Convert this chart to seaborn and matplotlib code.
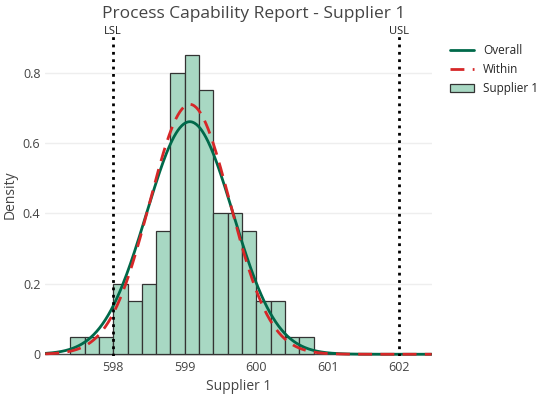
import numpy as np
import pandas as pd
import matplotlib
matplotlib.use('Agg')
import matplotlib.pyplot as plt
import seaborn as sns

# histogram bins (density)
bin_left = [597.4, 597.6, 597.8, 598.0, 598.2, 598.4, 598.6, 598.8, 599.0,
            599.2, 599.4, 599.6, 599.8, 600.0, 600.2, 600.4, 600.6]
density = [0.05, 0.05, 0.05, 0.2, 0.15, 0.2, 0.35, 0.8, 0.85,
           0.75, 0.4, 0.4, 0.35, 0.15, 0.15, 0.05, 0.05]
bin_width = 0.2

mean = 599.07
sigma_overall = 0.604
sigma_within = 0.562
lsl, usl = 598.0, 602.0

x = np.linspace(597.05, 602.45, 400)
def npdf(x, m, s):
    return np.exp(-0.5 * ((x - m) / s) ** 2) / (s * np.sqrt(2 * np.pi))

df = pd.DataFrame({'x': np.array(bin_left) + bin_width / 2, 'd': density})

sns.set_style('white')
plt.rcParams['font.family'] = ['Open Sans', 'DejaVu Sans']
fig = plt.figure(figsize=(5.52, 4.13), dpi=100)
ax = fig.add_axes([0.082, 0.138, 0.70, 0.78])

ax.bar(df.x, df.d, width=bin_width, color='#a8d8c3', edgecolor='#333333',
       linewidth=0.9, label='Supplier 1', zorder=2)
sns.lineplot(x=x, y=npdf(x, mean, sigma_overall), color='#00694a', lw=2,
             ax=ax, label='Overall', zorder=3)
sns.lineplot(x=x, y=npdf(x, mean, sigma_within), color='#d62728', lw=2,
             ax=ax, label='Within', zorder=3)
ax.lines[-1].set_dashes([5, 3])

for v, t in [(lsl, 'LSL'), (usl, 'USL')]:
    ax.axvline(v, color='black', ls=':', lw=2, zorder=4)
    ax.text(v, 0.9, t, ha='center', va='bottom', fontsize=8, color='#222222')

ax.set_xlim(597.05, 602.45)
ax.set_ylim(-0.005, 0.91)
ax.set_xticks([598, 599, 600, 601, 602])
ax.set_yticks([0, 0.2, 0.4, 0.6, 0.8])
ax.set_yticklabels(['0', '0.2', '0.4', '0.6', '0.8'])
ax.tick_params(labelsize=9, colors='#444444', length=0)
ax.grid(axis='y', color='#eeeeee', lw=1, zorder=0)
for s in ax.spines.values():
    s.set_visible(False)
ax.axhline(0, color='#444444', lw=1, zorder=1)
ax.set_xlabel('Supplier 1', fontsize=10, color='#444444')
ax.set_ylabel('Density', fontsize=10, color='#444444')
fig.suptitle('Process Capability Report - Supplier 1', fontsize=12.5,
             color='#444444', x=0.46, y=0.985)
ax.legend(loc='upper left', bbox_to_anchor=(1.02, 1.0), frameon=False,
          fontsize=8.5, handlelength=2)
fig.savefig('out.png')
